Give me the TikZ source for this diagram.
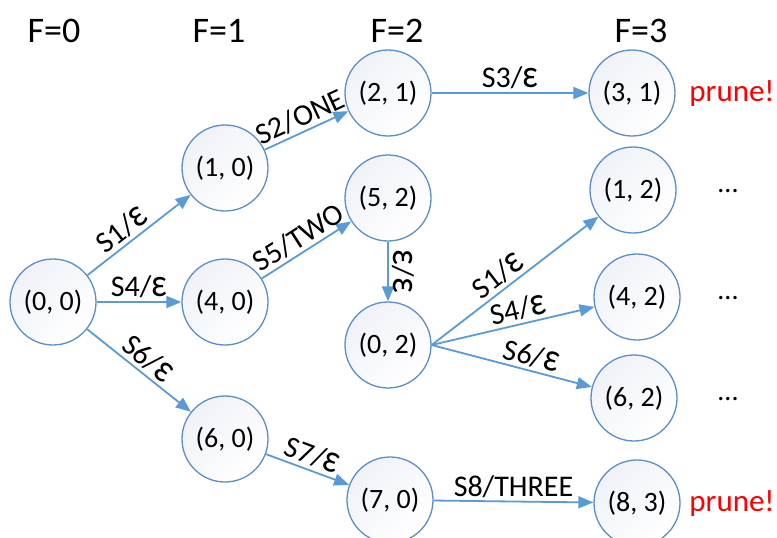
\documentclass[tikz,border=0pt]{standalone}
\usepackage{fontspec}
\setmainfont{Carlito}
\usetikzlibrary{arrows.meta}
\definecolor{edgeblue}{HTML}{5B9BD5}
\definecolor{ringblue}{HTML}{5A8FC8}
\definecolor{statefill}{HTML}{F0F2F8}
\definecolor{prunered}{HTML}{FF0000}
% epsilon drawn at capital height
\newcommand{\capeps}{\scalebox{1.15}[1.32]{ε}}

\begin{document}
\begin{tikzpicture}[x=1pt,y=-1pt,
  state/.style={circle, draw=ringblue, line width=1.3pt, minimum size=86pt,
    inner sep=0pt, top color=statefill, bottom color=white, shading angle=45,
    font=\fontsize{28}{32}\selectfont},
  trans/.style={draw=edgeblue, line width=1.8pt,
    -{Triangle[length=15pt,width=12pt]}},
  lbl/.style={font=\fontsize{30}{34}\selectfont, inner sep=3pt},
  level/.style={font=\fontsize{36}{40}\selectfont, anchor=base},
  prunetag/.style={text=prunered, font=\fontsize{31}{35}\selectfont, anchor=base},
  moretag/.style={font=\fontsize{28}{32}\selectfont, anchor=base}
]
\fill[white] (0,0) rectangle (777,538);
\useasboundingbox (0,0) rectangle (777,538);

% frontier levels
\node[level] (f0) at (54,42) {F=0};
\node[level] (f1) at (219,42) {F=1};
\node[level] (f2) at (397,42) {F=2};
\node[level] (f3) at (641,42) {F=3};

% states
\node[state] (n00) at (53,302) {(0, 0)};
\node[state] (n10) at (225,168) {(1, 0)};
\node[state] (n40) at (225,302) {(4, 0)};
\node[state] (n60) at (225,439) {(6, 0)};
\node[state] (n21) at (388,93) {(2, 1)};
\node[state] (n52) at (388,198) {(5, 2)};
\node[state] (n02) at (388,345) {(0, 2)};
\node[state] (n70) at (390,500) {(7, 0)};
\node[state] (n31) at (632,93) {(3, 1)};
\node[state] (n12) at (633,190) {(1, 2)};
\node[state] (n42) at (637,297) {(4, 2)};
\node[state] (n62) at (634,398) {(6, 2)};
\node[state] (n83) at (637,503) {(8, 3)};

% transitions
\draw[trans] (n00) -- node[lbl, sloped, above, pos=0.42] {S1/\capeps} (n10);
\draw[trans] (n00) -- node[lbl, above] {S4/\capeps} (n40);
\draw[trans] (n00) -- node[lbl, sloped, above] {S6/\capeps} (n60);
\draw[trans] (n10) -- node[lbl, sloped, above] {S2/ONE} (n21);
\draw[trans] (n40) -- node[lbl, sloped, above] {S5/TWO} (n52);
\draw[trans] (n21) -- node[lbl, above] {S3/\capeps} (n31);
\draw[trans] (n52) -- node[lbl, rotate=-90, anchor=south] {\capeps/\capeps} (n02);
\draw[trans] (n02.east) -- node[lbl, sloped, above, pos=0.45] {S1/\capeps} (n12);
\draw[trans] (n02.east) -- node[lbl, sloped, above, pos=0.55] {S4/\capeps} (n42);
\draw[trans] (n02.east) -- node[lbl, sloped, above, pos=0.6] {S6/\capeps} (n62);
\draw[trans] (n60) -- node[lbl, sloped, above] {S7/\capeps} (n70);
\draw[trans] (n70) -- node[lbl, above] {S8/THREE} (n83);

% pruned and pending branches
\node[prunetag] (p31) at (732,101) {prune!};
\node[prunetag] (p83) at (732,511) {prune!};
\node[moretag] (m12) at (728,192) {...};
\node[moretag] (m42) at (728,299) {...};
\node[moretag] (m62) at (728,400) {...};
\end{tikzpicture}
\end{document}
